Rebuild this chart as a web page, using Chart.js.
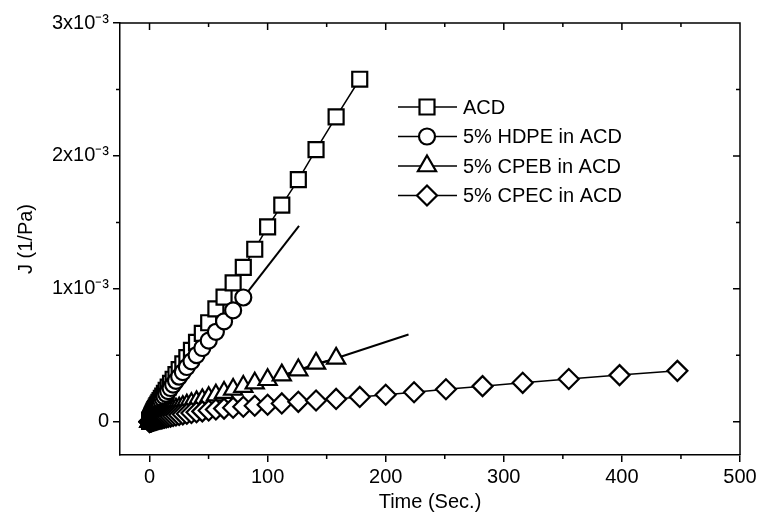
<!DOCTYPE html>
<html>
<head>
<meta charset="utf-8">
<script src="https://cdn.jsdelivr.net/npm/chart.js@4.4.0/dist/chart.umd.min.js"></script>
<style>
  html, body { margin: 0; padding: 0; background: #fff; }
</style>
</head>
<body>
<canvas id="creepChart" width="761" height="518"></canvas>
<script>
// sampling times (s) (log spaced)
const timeSec = [0.10, 0.11, 0.13, 0.14, 0.16, 0.18, 0.20, 0.22, 0.25, 0.28, 0.32, 0.35, 0.40, 0.45, 0.50, 0.56,
  0.63, 0.71, 0.79, 0.89,
  1.00, 1.12, 1.26, 1.41, 1.58, 1.78, 2.00, 2.24, 2.51, 2.82, 3.16, 3.55, 3.98, 4.47, 5.01, 5.62,
  6.31, 7.08, 7.94, 8.91, 10.0, 11.2, 12.6, 14.1, 15.8, 17.8, 20.0, 22.4, 25.1, 28.2, 31.6, 35.5, 39.8, 44.7,
  50.1, 56.2, 63.1, 70.8, 79.4, 89.1, 100, 112, 126, 141, 158, 178, 200, 224, 251, 282, 316, 355, 398, 447];

// compliance J, in units of 10^-3 1/Pa
const jACD = [0.002, 0.002, 0.003, 0.003, 0.004, 0.004, 0.005, 0.005, 0.006, 0.007, 0.008, 0.008, 0.009, 0.010,
  0.011, 0.012, 0.013, 0.015, 0.016, 0.018,
  0.020, 0.023, 0.026, 0.030, 0.034, 0.038, 0.043, 0.048, 0.054, 0.060, 0.067, 0.074, 0.082, 0.091,
  0.100, 0.110, 0.121, 0.133, 0.146, 0.160, 0.176, 0.194, 0.214, 0.236, 0.261, 0.289, 0.320, 0.354, 0.392, 0.435,
  0.483, 0.537, 0.598, 0.665, 0.745, 0.850, 0.937, 1.045, 1.161, 1.298, 1.466, 1.630, 1.822, 2.048, 2.294, 2.577];
const jHDPE = [0.002, 0.002, 0.002, 0.003, 0.003, 0.004, 0.004, 0.005, 0.005, 0.006, 0.007, 0.007, 0.008, 0.009,
  0.010, 0.011, 0.012, 0.013, 0.015, 0.016,
  0.018, 0.021, 0.024, 0.027, 0.030, 0.034, 0.038, 0.043, 0.048, 0.053, 0.059, 0.066, 0.073, 0.081,
  0.089, 0.098, 0.108, 0.119, 0.131, 0.144, 0.158, 0.174, 0.191, 0.210, 0.231, 0.254, 0.280, 0.308, 0.339, 0.374,
  0.412, 0.455, 0.502, 0.555, 0.610, 0.677, 0.755, 0.838, 0.935];
const jCPEB = [0.001, 0.001, 0.001, 0.002, 0.002, 0.002, 0.002, 0.003, 0.003, 0.003, 0.003, 0.004, 0.004, 0.004,
  0.005, 0.005, 0.006, 0.006, 0.007, 0.007,
  0.008, 0.009, 0.010, 0.011, 0.012, 0.013, 0.014, 0.016, 0.017, 0.019, 0.021, 0.023, 0.025, 0.027,
  0.030, 0.033, 0.036, 0.039, 0.043, 0.047, 0.051, 0.056, 0.061, 0.066, 0.072, 0.079, 0.086, 0.094, 0.103, 0.113,
  0.124, 0.136, 0.150, 0.165, 0.181, 0.200, 0.220, 0.243, 0.265, 0.290, 0.316, 0.351, 0.389, 0.439, 0.477];
const jCPEC = [0.000, 0.000, 0.001, 0.001, 0.001, 0.001, 0.001, 0.001, 0.001, 0.002, 0.002, 0.002, 0.002, 0.002,
  0.002, 0.003, 0.003, 0.003, 0.003, 0.004,
  0.004, 0.004, 0.005, 0.005, 0.006, 0.006, 0.007, 0.008, 0.008, 0.009, 0.010, 0.011, 0.012, 0.013,
  0.014, 0.016, 0.017, 0.019, 0.021, 0.023, 0.025, 0.027, 0.030, 0.033, 0.036, 0.039, 0.043, 0.047, 0.051, 0.056,
  0.061, 0.066, 0.072, 0.078, 0.085, 0.092, 0.099, 0.106, 0.113, 0.120, 0.128, 0.138, 0.150, 0.160, 0.172, 0.187,
  0.203, 0.222, 0.245, 0.268, 0.293, 0.322, 0.351, 0.383];

// straight fit lines
const fitHDPETime = [0, 126.6];
const fitHDPEJ = [0.028, 1.474];
const fitCPEBTime = [0, 219.3];
const fitCPEBJ = [0.017, 0.657];

const seriesLabels = ["ACD", "5% HDPE in ACD", "5% CPEB in ACD", "5% CPEC in ACD"];
const xTicks = [0, 100, 200, 300, 400, 500];
const xMinor = [50, 150, 250, 350, 450];
const yTicks = [0, 1, 2, 3];
const yMinor = [0.5, 1.5, 2.5];

const FONT = "'Liberation Sans', Arial, sans-serif";

function pts(ts, js) {
  return js.map((j, i) => ({ x: ts[i], y: j }));
}

function series(label, js, style, r, order) {
  return {
    label: label,
    data: pts(timeSec, js),
    showLine: true,
    borderColor: "#000",
    borderWidth: 1.5,
    pointStyle: style,
    pointRadius: r,
    pointHoverRadius: r,
    pointBackgroundColor: "#fff",
    pointBorderColor: "#000",
    pointBorderWidth: 2.2,
    order: order,
    inLegend: true,
  };
}

function fitLine(ts, js) {
  return {
    label: "fit",
    data: pts(ts, js),
    showLine: true,
    borderColor: "#000",
    borderWidth: 2,
    pointRadius: 0,
    order: 9,
  };
}

// frame, minor ticks and the mirrored ticks on top/right
const framePlugin = {
  id: "frame",
  afterDraw(chart) {
    const ctx = chart.ctx;
    const a = chart.chartArea;
    const xs = chart.scales.x, ys = chart.scales.y;
    ctx.save();
    ctx.strokeStyle = "#000";
    ctx.lineWidth = 1.5;
    ctx.beginPath();
    ctx.moveTo(a.left, a.top); ctx.lineTo(a.right, a.top); ctx.lineTo(a.right, a.bottom);
    xMinor.forEach(v => {
      const px = xs.getPixelForValue(v);
      ctx.moveTo(px, a.bottom); ctx.lineTo(px, a.bottom + 4);
      ctx.moveTo(px, a.top); ctx.lineTo(px, a.top + 4);
    });
    xTicks.forEach(v => {
      const px = xs.getPixelForValue(v);
      ctx.moveTo(px, a.top); ctx.lineTo(px, a.top + 7);
    });
    yMinor.forEach(v => {
      const py = ys.getPixelForValue(v);
      ctx.moveTo(a.left, py); ctx.lineTo(a.left - 4, py);
      ctx.moveTo(a.right, py); ctx.lineTo(a.right - 4, py);
    });
    yTicks.forEach(v => {
      const py = ys.getPixelForValue(v);
      ctx.moveTo(a.right, py); ctx.lineTo(a.right - 7, py);
    });
    ctx.stroke();
    ctx.restore();
  },
};

// legend drawn as line-marker-line like the original
const legendPlugin = {
  id: "lineLegend",
  afterDraw(chart) {
    const ctx = chart.ctx;
    const sets = chart.data.datasets.filter(d => d.inLegend);
    ctx.save();
    ctx.font = "20px " + FONT;
    ctx.textBaseline = "middle";
    sets.forEach((ds, i) => {
      const y = 107 + i * 29.5;
      ctx.strokeStyle = "#000";
      ctx.lineWidth = 1.5;
      ctx.beginPath();
      ctx.moveTo(398, y); ctx.lineTo(457, y);
      ctx.stroke();
      ctx.fillStyle = "#fff";
      ctx.lineWidth = 2.2;
      Chart.helpers.drawPoint(ctx, { pointStyle: ds.pointStyle, radius: ds.pointRadius, borderWidth: 2.2, rotation: 0 }, 427, y);
      ctx.fillStyle = "#000";
      ctx.fillText(ds.label, 463, y + 1);
    });
    ctx.restore();
  },
};

const ctx = document.getElementById("creepChart").getContext("2d");
new Chart(ctx, {
  type: "scatter",
  data: {
    datasets: [
      series(seriesLabels[0], jACD, "rect", 10.6, 4),
      series(seriesLabels[1], jHDPE, "circle", 8, 3),
      series(seriesLabels[2], jCPEB, "triangle", 10.5, 2),
      series(seriesLabels[3], jCPEC, "rectRot", 10, 1),
      fitLine(fitHDPETime, fitHDPEJ),
      fitLine(fitCPEBTime, fitCPEBJ),
    ],
  },
  options: {
    responsive: false,
    animation: false,
    layout: { padding: { left: 10, right: 21, top: 23, bottom: 0 } },
    plugins: { legend: { display: false }, tooltip: { enabled: false } },
    scales: {
      x: {
        type: "linear",
        min: -25,
        max: 500,
        afterBuildTicks: (axis) => { axis.ticks = xTicks.map(v => ({ value: v })); },
        afterFit: (scale) => { scale.height = 63; },
        grid: { drawOnChartArea: false, tickLength: 7, color: "#000", lineWidth: 1.5 },
        border: { display: true, color: "#000", width: 1.5 },
        ticks: { color: "#000", font: { family: FONT, size: 20 }, padding: 3, maxRotation: 0 },
        title: { display: true, text: "Time (Sec.)", color: "#000", font: { family: FONT, size: 20 } },
      },
      y: {
        type: "linear",
        min: -0.25,
        max: 3,
        afterBuildTicks: (axis) => { axis.ticks = yTicks.map(v => ({ value: v })); },
        afterFit: (scale) => { scale.width = 110; },
        grid: { drawOnChartArea: false, tickLength: 7, color: "#000", lineWidth: 1.5 },
        border: { display: true, color: "#000", width: 1.5 },
        ticks: {
          color: "#000",
          font: { family: FONT, size: 20 },
          padding: 4,
          callback: (v) => (v === 0 ? "0" : v + "x10\u207B\u00B3"),
        },
        title: { display: true, text: "J (1/Pa)", color: "#000", font: { family: FONT, size: 20 } },
      },
    },
  },
  plugins: [framePlugin, legendPlugin],
});
</script>
</body>
</html>
